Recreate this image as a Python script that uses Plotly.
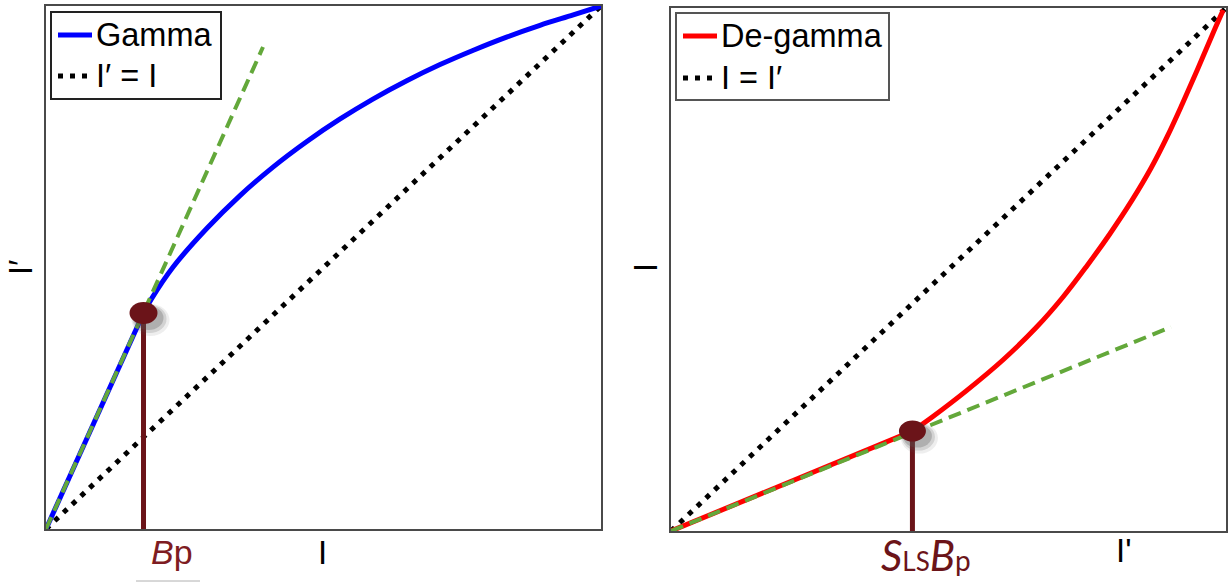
import plotly.graph_objects as go

W, H = 1228, 583

# ---------------- data (normalised 0..1 axes) ----------------
# Left panel: gamma curve I' = f(I)  (linear below Bp, power curve above)
bp_x, bp_y = 0.1757, 0.413
gamma_x = [0.1757, 0.19, 0.229, 0.29, 0.35, 0.409, 0.47, 0.53, 0.589, 0.65, 0.71, 0.769, 0.831, 0.89, 0.95, 1.0]
gamma_y = [0.413, 0.44, 0.501, 0.575, 0.638, 0.692, 0.741, 0.784, 0.822, 0.857, 0.888, 0.915, 0.941, 0.963, 0.983, 1.0]
gamma_lin_x = [0.0, 0.1757]
gamma_lin_y = [0.0, 0.413]
identity_x = [0.0, 1.0]
identity_y = [0.0, 1.0]
gamma_tangent_x = [0.0, 0.391]
gamma_tangent_y = [0.0, 0.9216]

# Right panel: de-gamma curve I = g(I')
sbp_x, sbp_y = 0.435, 0.191
degamma_x = [0.435, 0.472, 0.532, 0.598, 0.658, 0.706, 0.748, 0.790, 0.831, 0.865, 0.894, 0.921, 0.948, 0.975, 0.995]
degamma_y = [0.191, 0.219, 0.268, 0.327, 0.389, 0.447, 0.505, 0.567, 0.633, 0.694, 0.754, 0.816, 0.881, 0.948, 0.996]
degamma_lin_x = [0.0, 0.435]
degamma_lin_y = [0.0, 0.191]
degamma_tangent_x = [0.0, 0.901]
degamma_tangent_y = [0.0, 0.390]

# ---------------- styles ----------------
BLUE = "#0000FF"
RED = "#FF0000"
GREEN = "#63A83A"
DARKRED = "#6B1419"
LABELRED = "#7E1C22"
DOT = "5px,7px"
DASH = "13px,7px"
FONT = "Liberation Sans, Arial, sans-serif"

fig = go.Figure()

def panel(xa, ya, lx, ly, cx, cy, cname, ccolor, tx, ty, px_, py_):
    fig.add_trace(go.Scatter(x=identity_x, y=identity_y, xaxis=xa, yaxis=ya, mode="lines",
                             line=dict(color="black", width=5, dash=DOT), name="identity",
                             showlegend=False, hoverinfo="skip"))
    fig.add_trace(go.Scatter(x=lx, y=ly, xaxis=xa, yaxis=ya, mode="lines",
                             line=dict(color=ccolor, width=5), name=cname, showlegend=False))
    fig.add_trace(go.Scatter(x=cx, y=cy, xaxis=xa, yaxis=ya, mode="lines",
                             line=dict(color=ccolor, width=5, shape="spline", smoothing=1.0),
                             name=cname, showlegend=False))
    fig.add_trace(go.Scatter(x=tx, y=ty, xaxis=xa, yaxis=ya, mode="lines",
                             line=dict(color=GREEN, width=4, dash=DASH), name="tangent",
                             showlegend=False, hoverinfo="skip"))
    fig.add_trace(go.Scatter(x=[px_, px_], y=[0, py_], xaxis=xa, yaxis=ya, mode="lines",
                             line=dict(color=DARKRED, width=5), showlegend=False, hoverinfo="skip"))

panel("x", "y", gamma_lin_x, gamma_lin_y, gamma_x, gamma_y, "Gamma", BLUE,
      gamma_tangent_x, gamma_tangent_y, bp_x, bp_y)
panel("x2", "y2", degamma_lin_x, degamma_lin_y, degamma_x, degamma_y, "De-gamma", RED,
      degamma_tangent_x, degamma_tangent_y, sbp_x, sbp_y)

shapes = []
def dot_marker(xr, yr, x, y, w, h):
    # soft shadow
    for dx, dy, grow, op in [(7, -7, 5, 0.10), (6, -6, 3, 0.18), (5, -5, 1, 0.28)]:
        shapes.append(dict(type="circle", xref=xr, yref=yr, xsizemode="pixel", ysizemode="pixel",
                           xanchor=x, yanchor=y, x0=-w / 2 + dx - grow, x1=w / 2 + dx + grow,
                           y0=-h / 2 + dy - grow, y1=h / 2 + dy + grow,
                           fillcolor="#555555", opacity=op, line=dict(width=0), layer="above"))
    shapes.append(dict(type="circle", xref=xr, yref=yr, xsizemode="pixel", ysizemode="pixel",
                       xanchor=x, yanchor=y, x0=-w / 2, x1=w / 2, y0=-h / 2, y1=h / 2,
                       fillcolor=DARKRED, line=dict(width=0), layer="above"))

dot_marker("x", "y", bp_x, bp_y, 28, 22)
dot_marker("x2", "y2", sbp_x, sbp_y, 27, 21)

def PX(v):
    return v / W
def PY(v):
    return 1 - v / H

annotations = []
def legend(box, line_y1, line_y2, color, label1, label2, border):
    x0, y0, x1, y1 = box
    shapes.append(dict(type="rect", xref="paper", yref="paper", x0=PX(x0), x1=PX(x1), y0=PY(y1), y1=PY(y0),
                       line=dict(color=border, width=2), fillcolor="white", layer="above"))
    sx0, sx1 = x0 + 7, x0 + 41
    shapes.append(dict(type="line", xref="paper", yref="paper", x0=PX(sx0), x1=PX(sx1), y0=PY(line_y1), y1=PY(line_y1),
                       line=dict(color=color, width=5), layer="above"))
    shapes.append(dict(type="line", xref="paper", yref="paper", x0=PX(sx0), x1=PX(sx1 - 4), y0=PY(line_y2), y1=PY(line_y2),
                       line=dict(color="black", width=5, dash=DOT), layer="above"))
    annotations.append(dict(x=PX(sx1 + 2), y=PY(line_y1), xref="paper", yref="paper", text=label1, showarrow=False,
                            xanchor="left", yanchor="middle", font=dict(family=FONT, size=32.5, color="black")))
    annotations.append(dict(x=PX(sx1 + 2), y=PY(line_y2), xref="paper", yref="paper", text=label2, showarrow=False,
                            xanchor="left", yanchor="middle", font=dict(family=FONT, size=32.5, color="black")))

legend((51, 12, 221, 99), 35, 76, BLUE, "Gamma", "I\u2032 = I", "#222222")
legend((676, 13, 889, 100), 36, 78, RED, "De-gamma", "I = I\u2032", "#555555")

def lab(x, y, text, size=33, color="black", angle=0, family=FONT):
    annotations.append(dict(x=PX(x), y=PY(y), xref="paper", yref="paper", text=text, showarrow=False,
                            xanchor="center", yanchor="middle", textangle=angle,
                            font=dict(family=family, size=size, color=color)))

lab(322, 552, "I")
lab(20, 268, "I\u2032", angle=-90)
lab(645, 268, "I", angle=-90)
lab(1123, 550, "I'")
lab(172, 552, "<i>B</i>p", size=34, color=LABELRED)
lab(926, 555, "<i>S</i><span style='font-size:26px'>LS</span><i>B</i><span style='font-size:28px'>p</span>",
    size=42, color=DARKRED, family="Lato, Open Sans, sans-serif")
shapes.append(dict(type="line", xref="paper", yref="paper", x0=PX(136), x1=PX(200), y0=PY(581), y1=PY(581),
                   line=dict(color="#b0b0b0", width=1)))

axis_common = dict(range=[0, 1], showgrid=False, zeroline=False, showticklabels=False, ticks="",
                   showline=True, mirror=True, linecolor="#4a4a4a", linewidth=2, fixedrange=True)

fig.update_layout(
    width=W, height=H, margin=dict(l=0, r=0, t=0, b=0),
    paper_bgcolor="white", plot_bgcolor="white", showlegend=False,
    xaxis=dict(domain=[46 / W, 601 / W], anchor="y", **axis_common),
    yaxis=dict(domain=[1 - 529 / H, 1 - 6 / H], anchor="x", **axis_common),
    xaxis2=dict(domain=[671 / W, 1226 / W], anchor="y2", **axis_common),
    yaxis2=dict(domain=[1 - 531 / H, 1 - 8 / H], anchor="x2", **axis_common),
    shapes=shapes, annotations=annotations,
)

fig.write_html("out.html", config={"displayModeBar": False},
               post_script="document.body.style.margin='0px';document.body.style.overflow='hidden';")
